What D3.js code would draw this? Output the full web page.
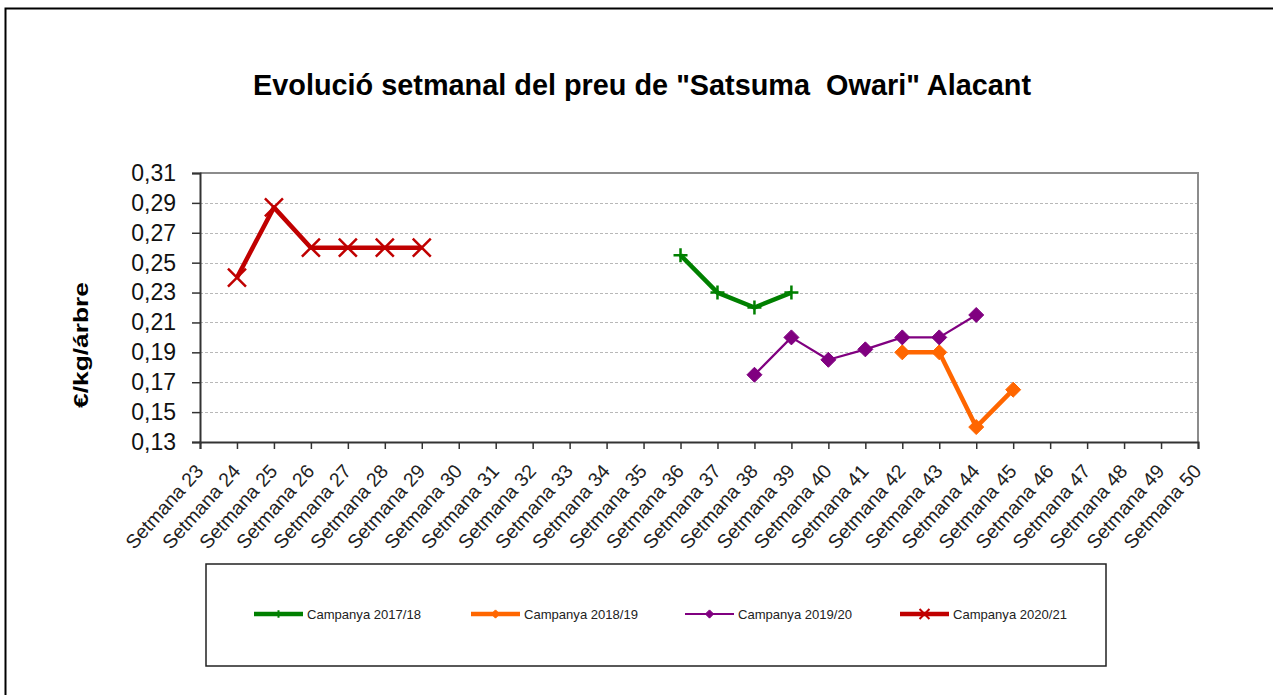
<!DOCTYPE html>
<html>
<head>
<meta charset="utf-8">
<script src="https://cdn.jsdelivr.net/npm/d3@7"></script>
<style>
  body { margin: 0; background: #fff; }
  svg { display: block; font-family: Arial, "Liberation Sans", sans-serif; }
</style>
</head>
<body>
<svg id="chart" width="1273" height="695"></svg>
<script>
// categories (weeks) and series values
const weeks = [23, 24, 25, 26, 27, 28, 29, 30, 31, 32, 33, 34, 35, 36,
               37, 38, 39, 40, 41, 42, 43, 44, 45, 46, 47, 48, 49, 50];
const yTicks = [0.13, 0.15, 0.17, 0.19, 0.21, 0.23, 0.25, 0.27, 0.29, 0.31];

const weeks1718 = [36, 37, 38, 39];
const values1718 = [0.255, 0.23, 0.22, 0.23];
const weeks1819 = [42, 43, 44, 45];
const values1819 = [0.19, 0.19, 0.14, 0.165];
const weeks1920 = [38, 39, 40, 41, 42, 43, 44];
const values1920 = [0.175, 0.20, 0.185, 0.192, 0.20, 0.20, 0.215];
const weeks2021 = [24, 25, 26, 27, 28, 29];
const values2021 = [0.24, 0.287, 0.26, 0.26, 0.26, 0.26];

const seriesNames = ['Campanya 2017/18', 'Campanya 2018/19', 'Campanya 2019/20', 'Campanya 2020/21'];

// marker shapes
const plusPath = r => `M${-r},0H${r}M0,${-r}V${r}`;
const crossPath = r => `M${-r},${-r}L${r},${r}M${-r},${r}L${r},${-r}`;
const diamondPath = r => `M0,${-r}L${r},0L0,${r}L${-r},0Z`;

const series = [
  { name: seriesNames[0], weeks: weeks1718, values: values1718, color: '#008000', width: 4.5,
    marker: plusPath, size: 7, fill: false, mWidth: 2.5 },
  { name: seriesNames[1], weeks: weeks1819, values: values1819, color: '#ff6600', width: 4.5,
    marker: diamondPath, size: 7.5, fill: true, mWidth: 1 },
  { name: seriesNames[2], weeks: weeks1920, values: values1920, color: '#800080', width: 2.2,
    marker: diamondPath, size: 7.5, fill: true, mWidth: 1 },
  { name: seriesNames[3], weeks: weeks2021, values: values2021, color: '#c00000', width: 4.5,
    marker: crossPath, size: 9, fill: false, mWidth: 2.5 }
];

const margin = { top: 173, right: 75, bottom: 253, left: 200 };
const width = 1273, height = 695;

const svg = d3.select('#chart');

// outer frame
svg.append('rect')
  .attr('x', 5.5).attr('y', 8.5)
  .attr('width', 1400).attr('height', 900)
  .attr('fill', 'none').attr('stroke', '#000').attr('stroke-width', 2);

// title
svg.append('text')
  .attr('x', 642).attr('y', 95)
  .attr('text-anchor', 'middle')
  .attr('font-size', 29).attr('font-weight', 'bold')
  .attr('textLength', 778).attr('lengthAdjust', 'spacingAndGlyphs')
  .text('Evolució setmanal del preu de "Satsuma\u00a0 Owari" Alacant');

const x0 = margin.left, x1 = width - margin.right; // 1198
const yTop = margin.top, yBot = height - margin.bottom; // 442

const xscale = d3.scalePoint().domain(weeks).range([x0, x1]);
const yscale = d3.scaleLinear().domain([0.13, 0.31]).range([yBot, yTop]);

const comma = d3.formatLocale({ decimal: ',', thousands: '.', grouping: [3], currency: ['', '€'] });
const fmt = comma.format('.2f');

// gridlines
svg.append('g')
  .selectAll('line')
  .data(yTicks.slice(1, -1))
  .enter().append('line')
  .attr('x1', x0).attr('x2', x1)
  .attr('y1', d => Math.round(yscale(d)) + 0.5)
  .attr('y2', d => Math.round(yscale(d)) + 0.5)
  .attr('stroke', '#b8b8b8').attr('stroke-dasharray', '3,2');

// plot border (top, right)
svg.append('path')
  .attr('d', `M${x0},${yTop}H${x1}V${yBot}`)
  .attr('fill', 'none').attr('stroke', '#8c8c8c').attr('stroke-width', 2);

// y axis
const yaxisGroup = svg.append('g').attr('transform', `translate(${x0},0)`);
yaxisGroup.call(d3.axisLeft(yscale).tickValues(yTicks).tickFormat(fmt).tickSize(8).tickPadding(16));
yaxisGroup.select('.domain').attr('stroke', '#333').attr('stroke-width', 2);
yaxisGroup.selectAll('.tick line').attr('stroke', '#333').attr('stroke-width', 1.5);
yaxisGroup.selectAll('.tick text')
  .attr('font-size', 23).attr('fill', '#111').attr('font-family', 'Arial, "Liberation Sans", sans-serif');

// x axis
const xaxisGroup = svg.append('g').attr('transform', `translate(0,${yBot})`);
xaxisGroup.call(d3.axisBottom(xscale).tickFormat(d => 'Setmana ' + d).tickSize(7));
xaxisGroup.select('.domain').attr('stroke', '#333').attr('stroke-width', 2);
xaxisGroup.selectAll('.tick line').attr('stroke', '#333').attr('stroke-width', 1.5);
xaxisGroup.selectAll('.tick text')
  .attr('font-size', 19.5).attr('fill', '#222')
  .attr('font-family', 'Arial, "Liberation Sans", sans-serif')
  .attr('text-anchor', 'end')
  .attr('dy', 0)
  .attr('transform', 'translate(4,30) rotate(-48)')
  .attr('y', 0).attr('x', 0);

// y axis title
svg.append('text')
  .attr('transform', 'translate(88,345) rotate(-90)')
  .attr('text-anchor', 'middle')
  .attr('font-size', 21).attr('font-weight', 'bold')
  .attr('textLength', 126).attr('lengthAdjust', 'spacingAndGlyphs')
  .text('€/kg/árbre');

// series
const line = d3.line()
  .x(d => xscale(d[0]))
  .y(d => yscale(d[1]));

const seriesGroup = svg.append('g');
series.forEach(s => {
  const pts = s.weeks.map((w, i) => [w, s.values[i]]);
  seriesGroup.append('path')
    .datum(pts)
    .attr('d', line)
    .attr('fill', 'none')
    .attr('stroke', s.color)
    .attr('stroke-width', s.width)
    .attr('stroke-linejoin', 'round');
  seriesGroup.selectAll(null)
    .data(pts)
    .enter().append('path')
    .attr('transform', d => `translate(${xscale(d[0])},${yscale(d[1])})`)
    .attr('d', s.marker(s.size))
    .attr('fill', s.fill ? s.color : 'none')
    .attr('stroke', s.color)
    .attr('stroke-width', s.mWidth);
});

// legend
const legend = svg.append('g');
legend.append('rect')
  .attr('x', 206).attr('y', 564)
  .attr('width', 900).attr('height', 102)
  .attr('fill', '#fff').attr('stroke', '#222').attr('stroke-width', 1.5);

const legendX = [254, 471, 685, 900];
const legendItems = legend.selectAll('g.item')
  .data(series)
  .enter().append('g')
  .attr('class', 'item')
  .attr('transform', (d, i) => `translate(${legendX[i]},614)`);

legendItems.append('line')
  .attr('x1', 0).attr('x2', 49)
  .attr('stroke', d => d.color)
  .attr('stroke-width', d => d.width);
legendItems.append('path')
  .attr('transform', 'translate(24.5,0)')
  .attr('d', d => d.marker(d.size * 0.55))
  .attr('fill', d => d.fill ? d.color : 'none')
  .attr('stroke', d => d.color)
  .attr('stroke-width', d => d.fill ? 1 : 2);
legendItems.append('text')
  .attr('x', 53).attr('y', 4.5)
  .attr('font-size', 13)
  .attr('fill', '#222')
  .attr('textLength', 114).attr('lengthAdjust', 'spacingAndGlyphs')
  .text(d => d.name);
</script>
</body>
</html>
